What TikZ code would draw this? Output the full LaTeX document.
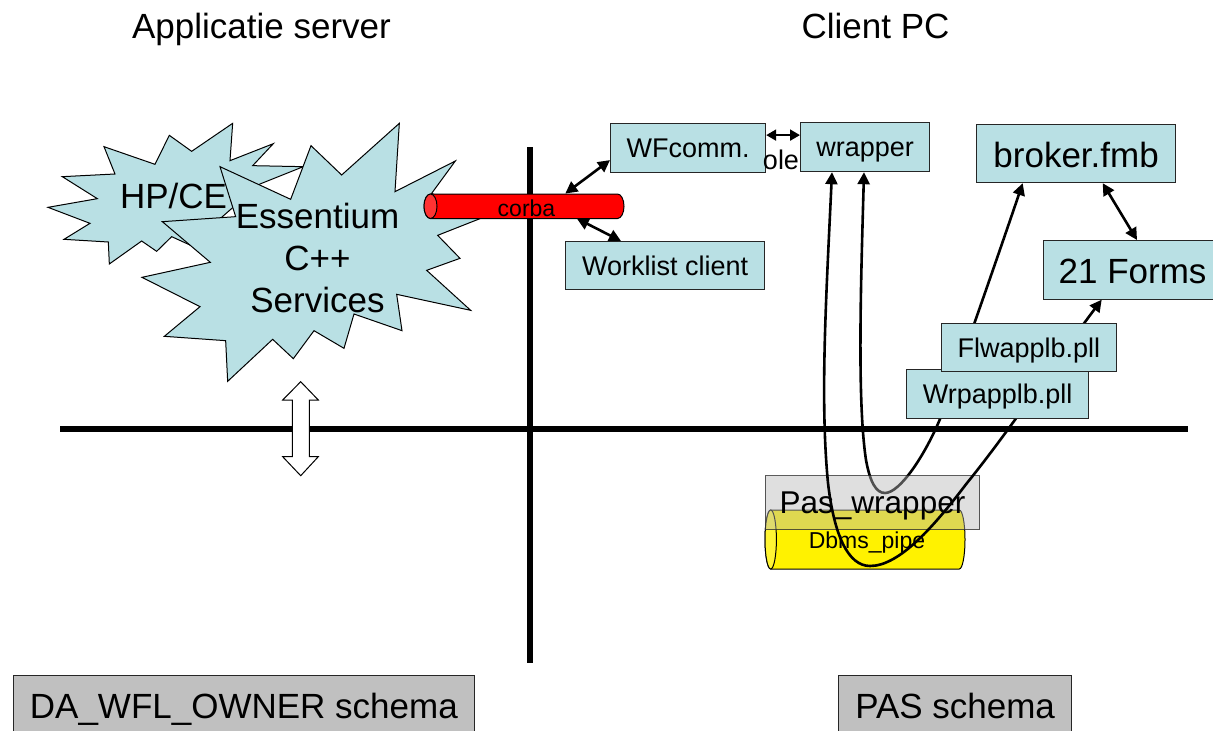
\documentclass[tikz,border=0pt]{standalone}
\usepackage{fontspec}
\setmainfont{Liberation Sans}
\usetikzlibrary{arrows.meta}
\definecolor{boxblue}{RGB}{185,224,228}
\definecolor{schemagray}{RGB}{192,192,192}
\newcommand{\fs}[1]{\fontsize{#1}{#1}\selectfont}
\newcommand{\cylbody}[7]{% left, top, right, bottom, rx, body, end
  \draw[cyl,fill=#6] (#1+#5,#2) -- (#3-#5,#2) arc[start angle=90,end angle=-90,x radius=#5pt,y radius={(#4-#2)/2*1pt}] -- (#1+#5,#4) arc[start angle=270,end angle=90,x radius=#5pt,y radius={(#4-#2)/2*1pt}] -- cycle;
  \draw[cyl,fill=#7] (#1+#5,{(#2+#4)/2}) ellipse[x radius=#5pt,y radius={(#4-#2)/2*1pt}];
}
\tikzset{
  x=1pt,y=-1pt,
  box/.style={draw=black!85,line width=1.2pt,fill=boxblue,inner sep=0pt,anchor=north west},
  bigtext/.style={font=\fs{35},text height=27pt,text depth=0pt},
  midtext/.style={font=\fs{27},text height=19.5pt,text depth=0pt},
  title/.style={font=\fs{35},anchor=base,inner sep=0pt},
  schema/.style={box,bigtext,fill=schemagray},
  cyl/.style={draw=black,line width=1pt},
  star/.style={draw=black,line width=1pt,fill=boxblue,line join=miter},
  axis/.style={draw=black,line width=6pt},
  link/.style={draw=black,line width=2.6pt,{Triangle[length=12pt,width=12pt]}-{Triangle[length=12pt,width=12pt]}},
  smalllink/.style={draw=black,line width=2pt,{Triangle[length=10pt,width=11pt]}-{Triangle[length=10pt,width=11pt]}},
  zoomed/.style={x=0.33333pt,y=-0.33333pt,shift={(90,330)}},
}
\begin{document}
\begin{tikzpicture}
\clip (0,0) rectangle (1213,731);
\fill[white] (0,0) rectangle (1213,731);
\node[title] (appserver) at (261.5,38) {Applicatie server};
\node[title] (clientpc) at (875.5,38) {Client PC};
% HP star
\begin{scope}[zoomed]
\draw[star] (222,110)--(375,163)--(418,76)--(485,124)--(608,40)--(600,152)--(730,101)--(668,167)--(820,170)--(690,222)--(600,300)--(480,405)--(425,380)--(380,424)--(335,393)--(238,462)--(235,396)--(102,388)--(180,340)--(54,292)--(202,266)--(97,200)--(255,192)--cycle;
\end{scope}
\node[title] (hp) at (173.5,208.5) {HP/CE};
\begin{scope}[zoomed]
\draw[star] (570,170)--(782,268)--(843,107)--(935,195)--(1108,40)--(1095,245)--(1276,153)--(1205,250)--(1360,322)--(1223,376)--(1290,445)--(1190,481)--(1322,601)--(1100,553)--(1116,662)--(972,612)--(942,715)--(852,662)--(790,746)--(728,688)--(593,814)--(587,692)--(403,679)--(510,590)--(336,502)--(541,457)--(397,335)--(617,320)--cycle;
\end{scope}
\node[align=center,inner sep=0pt,font=\fontsize{35}{42}\selectfont] (ess) at (317.5,258) {Essentium\\C++\\Services};
% axes
\coordinate (vtop) at (530,147); \coordinate (vbot) at (530,663);
\coordinate (hl) at (60,429); \coordinate (hr) at (1188,429);
\draw[axis] (vtop)--(vbot);
\draw[axis] (hl)--(hr);
% block arrow
\draw[draw=black,line width=1pt,fill=white,line join=miter] (300.7,381.7)--(318.3,400)--(309.3,400)--(309.3,456.7)--(318.3,456.7)--(300.7,475.7)--(282.7,456.7)--(292.3,456.7)--(292.3,400)--(282.7,400)--cycle;
% corba
\cylbody{424}{194}{624}{218.5}{6.5}{red}{red!80!white}
\node[font=\fs{23},text height=20pt,text depth=0pt,inner sep=0pt,minimum width=200pt,minimum height=24.5pt] (corba) at (526.5,206) {corba};
% boxes
\node[box,midtext,minimum width=155pt,minimum height=49pt] (wf) at (610,123) {WFcomm.};
\node[box,midtext,minimum width=129pt,minimum height=49pt] (wrapper) at (800,122) {wrapper};
\node[box,midtext,minimum width=199pt,minimum height=48pt] (work) at (565,241) {Worklist client};
\node[box,bigtext,minimum width=199pt,minimum height=58pt] (broker) at (976,124) {broker.fmb};
\node[box,bigtext,minimum width=178pt,minimum height=58.5pt] (forms) at (1043,240) {21 Forms};
\node[font=\fs{27},anchor=base,inner sep=0pt] (ole) at (781,169) {ole};
\node[schema,minimum width=460.5pt,minimum height=70pt,text height=27pt] (da) at (13,675) {\raisebox{6pt}{DA\_WFL\_OWNER schema}};
\node[schema,minimum width=233pt,minimum height=70pt] (pas) at (838,675) {\raisebox{6pt}{PAS schema}};
% dbms pipe
\cylbody{765}{510}{965}{569}{5.7}{yellow}{yellow!80!white}
\node[font=\fs{23},text height=17pt,text depth=0pt,inner sep=0pt,minimum width=200pt,minimum height=59pt] (pipe) at (867,539.5) {Dbms\_pipe};
% connectors
\draw[smalllink] ([yshift=13pt]wf.east) -- ([yshift=12pt]wrapper.west);
\draw[link] ([yshift=-12pt]wf.west) -- ([xshift=139pt]corba.north west);
\draw[link] ([xshift=150.5pt]corba.south west) -- ([xshift=56pt]work.north west);
\draw[link] ([xshift=126.7pt]broker.south west) -- ([xshift=94pt]forms.north west);
\draw[link] ([xshift=64pt]wrapper.south west) .. controls (861,280) and (857,400) .. (866,460) .. controls (870,482) and (876,493) .. (885,493) .. controls (900,493) and (925,455) .. (940,419) .. controls (955,380) and (1000,250) .. ([xshift=46.7pt]broker.south west);
% grey box above the second curve
\node[box,minimum width=214.5pt,minimum height=54pt,fill=black!28,fill opacity=.44,draw opacity=.75] (paswrap) at (764.7,475) {};
\node[font=\fs{31.5},anchor=base,inner sep=0pt] (pastext) at (872.5,513) {Pas\_wrapper};
% first curve
\draw[link] ([xshift=32pt]wrapper.south west) .. controls (826,300) and (820,400) .. (828,483) .. controls (834,535) and (848,566) .. (870,566) .. controls (900,566) and (935,525) .. (967,483) .. controls (1010,430) and (1060,355) .. ([xshift=58.7pt]forms.south west);
% upper boxes cover the curves
\node[box,midtext,minimum width=182pt,minimum height=49pt] (wrp) at (906,369) {Wrpapplb.pll};
\node[box,midtext,minimum width=174.5pt,minimum height=48.3pt] (flw) at (941,322.7) {Flwapplb.pll};
\end{tikzpicture}
\end{document}
